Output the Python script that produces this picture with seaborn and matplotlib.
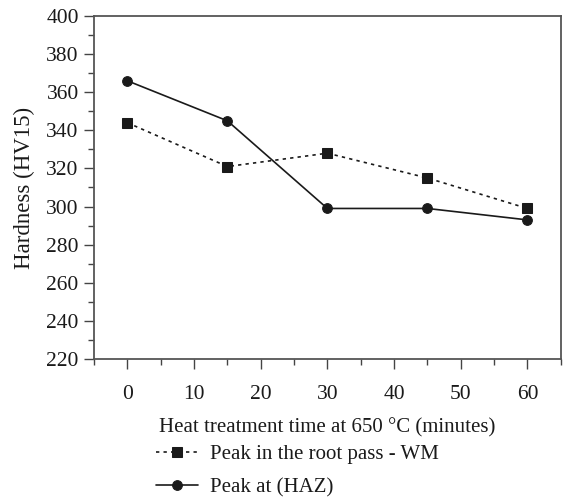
import matplotlib
matplotlib.use("Agg")
import matplotlib.pyplot as plt
import seaborn as sns
import pandas as pd
from matplotlib.ticker import MultipleLocator

time_min = [0, 15, 30, 45, 60]
wm_root = [344, 321, 328, 315, 299]
haz_peak = [366, 345, 299, 299, 293]
labels = ["Peak in the root pass - WM", "Peak at (HAZ)"]

sns.set_theme(style="white")
plt.rcParams['font.family'] = ['Liberation Serif', 'DejaVu Serif']
plt.rcParams['font.size'] = 15

df = pd.DataFrame({
    "time": time_min * 2,
    "hv": wm_root + haz_peak,
    "series": [labels[0]] * 5 + [labels[1]] * 5,
})

fig = plt.figure(figsize=(5.63, 5.0), dpi=100)
ax = fig.add_axes([0.167, 0.282, 0.829, 0.686])

sns.lineplot(data=df[df.series == labels[0]], x="time", y="hv", ax=ax,
             color="#1a1a1a", linestyle=(0, (2, 2.5)), linewidth=1.2,
             marker="s", markersize=7, markeredgecolor="#1a1a1a", label=labels[0])
sns.lineplot(data=df[df.series == labels[1]], x="time", y="hv", ax=ax,
             color="#1a1a1a", linestyle="-", linewidth=1.2,
             marker="o", markersize=7, markeredgecolor="#1a1a1a", label=labels[1])

ax.set_xlim(-5, 65)
ax.set_ylim(220, 400)
ax.xaxis.set_major_locator(MultipleLocator(10))
ax.xaxis.set_minor_locator(MultipleLocator(5))
ax.yaxis.set_major_locator(MultipleLocator(20))
ax.yaxis.set_minor_locator(MultipleLocator(10))
ax.tick_params(axis="both", which="major", direction="out", length=7, width=1,
               color="#444444", labelsize=15.5, labelcolor="#1a1a1a", pad=4)
ax.tick_params(axis="both", which="minor", direction="out", length=4, width=1,
               color="#444444")
ax.tick_params(axis="x", which="major", pad=12)
ax.tick_params(bottom=True, left=True, which="both")
for s in ax.spines.values():
    s.set_color("#555555")
    s.set_linewidth(1.3)

ax.set_xlabel("Heat treatment time at 650 °C (minutes)", fontsize=15,
              color="#1a1a1a", labelpad=10)
ax.set_ylabel("Hardness (HV15)", fontsize=16.5, color="#1a1a1a", labelpad=8)

leg = ax.legend(loc="upper left", bbox_to_anchor=(0.115, -0.226), frameon=False,
                fontsize=15, handlelength=2.0, handletextpad=0.6,
                labelspacing=0.66, borderaxespad=0)
for t in leg.get_texts():
    t.set_color("#1a1a1a")

fig.savefig("out.png", dpi=100)
